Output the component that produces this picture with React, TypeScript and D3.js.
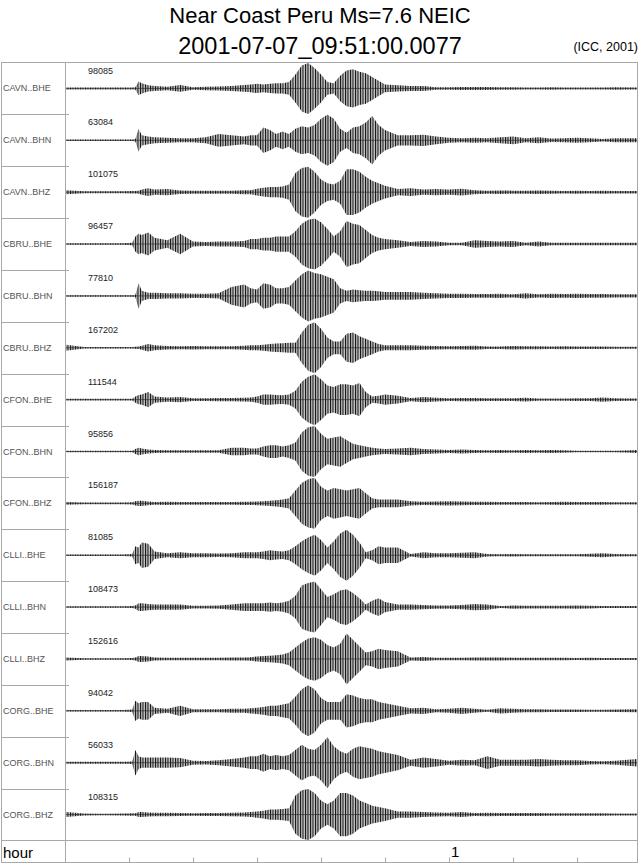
import React from 'react';
import * as d3 from 'd3';

// ---- data ----
// time knots in minutes after origin (shared by all traces)
const TIMES = [
  0, 3, 6, 9, 10.5, 11, 11.5, 12, 13, 14,
  16, 18, 20, 22, 24, 26, 28,
  29, 30, 31, 32, 33, 34, 35, 36, 37, 38, 39, 40, 41, 42, 43, 44, 45, 46, 47, 48, 49, 50,
  52, 54, 56, 58, 60, 62, 64, 66, 68, 70, 72, 74, 76, 78, 80, 82, 84, 86, 89.4,
];

const STATIONS = [
  'CAVN..BHE', 'CAVN..BHN', 'CAVN..BHZ',
  'CBRU..BHE', 'CBRU..BHN', 'CBRU..BHZ',
  'CFON..BHE', 'CFON..BHN', 'CFON..BHZ',
  'CLLI..BHE', 'CLLI..BHN', 'CLLI..BHZ',
  'CORG..BHE', 'CORG..BHN', 'CORG..BHZ',
];

const MAX_COUNTS = [
  98085, 63084, 101075, 96457, 77810, 167202, 111544, 95856, 156187,
  81085, 108473, 152616, 94042, 56033, 108315,
];

// normalized envelope (fraction of trace maximum) at TIMES
const ENV_CAVN_BHE = [
  0.04, 0.04, 0.04, 0.04, 0.04, 0.05, 0.27, 0.2, 0.12, 0.1,
  0.07, 0.13, 0.05, 0.07, 0.08, 0.1, 0.13,
  0.15, 0.18, 0.15, 0.18, 0.2, 0.2, 0.25, 0.55, 0.9, 1.0, 0.8, 0.55, 0.25, 0.2, 0.5, 0.7, 0.75, 0.65, 0.6, 0.45, 0.3, 0.15,
  0.12, 0.1, 0.1, 0.05, 0.05, 0.06, 0.06, 0.06, 0.05, 0.05, 0.04, 0.04, 0.05, 0.04, 0.04, 0.04, 0.04, 0.05, 0.04,
];
const ENV_CAVN_BHN = [
  0.03, 0.03, 0.03, 0.03, 0.03, 0.05, 0.45, 0.2, 0.15, 0.12,
  0.1, 0.08, 0.08, 0.12, 0.25, 0.2, 0.15,
  0.2, 0.2, 0.5, 0.4, 0.25, 0.35, 0.25, 0.45, 0.55, 0.5, 0.6, 0.85, 1.0, 0.85, 0.45, 0.3, 0.5, 0.55, 0.7, 0.95, 0.6, 0.4,
  0.2, 0.2, 0.22, 0.15, 0.1, 0.08, 0.1, 0.08, 0.12, 0.15, 0.08, 0.12, 0.07, 0.08, 0.1, 0.08, 0.05, 0.08, 0.08,
];
const ENV_CAVN_BHZ = [
  0.08, 0.04, 0.04, 0.04, 0.05, 0.05, 0.06, 0.1, 0.15, 0.1,
  0.12, 0.07, 0.06, 0.06, 0.06, 0.06, 0.08,
  0.08, 0.13, 0.17, 0.2, 0.2, 0.22, 0.3, 0.75, 0.95, 1.0, 0.8, 0.5, 0.35, 0.3, 0.45, 0.9, 0.9, 0.8, 0.6, 0.45, 0.35, 0.25,
  0.12, 0.15, 0.1, 0.12, 0.1, 0.13, 0.08, 0.06, 0.07, 0.06, 0.06, 0.07, 0.06, 0.05, 0.06, 0.05, 0.06, 0.05, 0.05,
];
const ENV_CBRU_BHE = [
  0.03, 0.03, 0.03, 0.03, 0.05, 0.3, 0.4, 0.35, 0.45, 0.25,
  0.15, 0.4, 0.1, 0.08, 0.1, 0.1, 0.12,
  0.2, 0.2, 0.25, 0.25, 0.3, 0.3, 0.3, 0.5, 0.8, 0.95, 1.0, 0.85, 0.6, 0.3, 0.5, 0.9, 0.8, 0.75, 0.55, 0.35, 0.25, 0.2,
  0.15, 0.08, 0.12, 0.1, 0.05, 0.05, 0.15, 0.12, 0.1, 0.12, 0.05, 0.1, 0.05, 0.05, 0.05, 0.05, 0.05, 0.05, 0.05,
];
const ENV_CBRU_BHN = [
  0.03, 0.03, 0.03, 0.03, 0.03, 0.05, 0.5, 0.2, 0.12, 0.12,
  0.1, 0.1, 0.08, 0.08, 0.1, 0.35, 0.45,
  0.3, 0.25, 0.5, 0.45, 0.3, 0.3, 0.35, 0.6, 0.85, 1.0, 0.9, 0.85, 0.75, 0.65, 0.3, 0.2, 0.25, 0.22, 0.2, 0.2, 0.18, 0.15,
  0.15, 0.15, 0.12, 0.1, 0.08, 0.08, 0.07, 0.07, 0.08, 0.06, 0.1, 0.06, 0.08, 0.07, 0.08, 0.07, 0.07, 0.06, 0.06,
];
const ENV_CBRU_BHZ = [
  0.12, 0.03, 0.03, 0.03, 0.03, 0.04, 0.05, 0.08, 0.15, 0.1,
  0.07, 0.06, 0.07, 0.06, 0.06, 0.06, 0.08,
  0.1, 0.1, 0.12, 0.15, 0.17, 0.18, 0.2, 0.2, 0.6, 0.9, 1.0, 0.75, 0.4, 0.25, 0.25, 0.55, 0.6, 0.45, 0.35, 0.25, 0.15, 0.1,
  0.1, 0.1, 0.08, 0.07, 0.06, 0.07, 0.08, 0.05, 0.05, 0.07, 0.06, 0.06, 0.05, 0.06, 0.05, 0.05, 0.05, 0.04, 0.04,
];
const ENV_CFON_BHE = [
  0.03, 0.03, 0.03, 0.03, 0.03, 0.12, 0.18, 0.2, 0.3, 0.12,
  0.08, 0.1, 0.05, 0.05, 0.06, 0.06, 0.07,
  0.08, 0.12, 0.2, 0.2, 0.18, 0.17, 0.2, 0.35, 0.7, 0.9, 1.0, 0.8, 0.55, 0.5, 0.6, 0.6, 0.55, 0.65, 0.3, 0.12, 0.15, 0.2,
  0.15, 0.06, 0.1, 0.07, 0.05, 0.06, 0.06, 0.05, 0.05, 0.05, 0.07, 0.04, 0.04, 0.04, 0.05, 0.05, 0.08, 0.05, 0.04,
];
const ENV_CFON_BHN = [
  0.02, 0.02, 0.02, 0.02, 0.03, 0.1, 0.15, 0.12, 0.08, 0.06,
  0.05, 0.05, 0.05, 0.05, 0.05, 0.15, 0.15,
  0.12, 0.12, 0.2, 0.25, 0.25, 0.2, 0.25, 0.35, 0.75, 0.95, 1.0, 0.7, 0.5, 0.55, 0.6, 0.45, 0.3, 0.25, 0.2, 0.15, 0.12, 0.1,
  0.12, 0.15, 0.1, 0.08, 0.06, 0.08, 0.06, 0.05, 0.06, 0.05, 0.06, 0.05, 0.06, 0.05, 0.03, 0.03, 0.03, 0.03, 0.06,
];
const ENV_CFON_BHZ = [
  0.06, 0.03, 0.03, 0.03, 0.04, 0.08, 0.1, 0.1, 0.07, 0.05,
  0.06, 0.05, 0.05, 0.05, 0.05, 0.05, 0.06,
  0.06, 0.07, 0.08, 0.1, 0.12, 0.15, 0.2, 0.5, 0.8, 0.95, 1.0, 0.65, 0.5, 0.6, 0.55, 0.5, 0.55, 0.6, 0.4, 0.2, 0.15, 0.15,
  0.15, 0.08, 0.06, 0.07, 0.08, 0.07, 0.06, 0.06, 0.05, 0.05, 0.05, 0.04, 0.05, 0.06, 0.05, 0.05, 0.05, 0.04, 0.04,
];
const ENV_CLLI_BHE = [
  0.03, 0.03, 0.03, 0.03, 0.05, 0.35, 0.3, 0.5, 0.45, 0.15,
  0.08, 0.12, 0.08, 0.08, 0.07, 0.08, 0.12,
  0.12, 0.12, 0.15, 0.2, 0.17, 0.15, 0.2, 0.35, 0.55, 0.7, 0.8, 0.6, 0.3, 0.55, 0.85, 1.0, 0.8, 0.5, 0.12, 0.2, 0.35, 0.3,
  0.3, 0.05, 0.12, 0.08, 0.08, 0.1, 0.12, 0.05, 0.04, 0.05, 0.04, 0.04, 0.04, 0.04, 0.04, 0.06, 0.08, 0.05, 0.04,
];
const ENV_CLLI_BHN = [
  0.03, 0.03, 0.03, 0.03, 0.04, 0.06, 0.15, 0.15, 0.12, 0.1,
  0.1, 0.1, 0.05, 0.05, 0.06, 0.1, 0.15,
  0.15, 0.15, 0.15, 0.18, 0.15, 0.18, 0.25, 0.45, 0.85, 0.95, 1.0, 0.7, 0.4, 0.5, 0.65, 0.7, 0.55, 0.35, 0.1, 0.25, 0.35, 0.2,
  0.1, 0.1, 0.08, 0.06, 0.06, 0.08, 0.12, 0.1, 0.04, 0.06, 0.05, 0.05, 0.05, 0.05, 0.06, 0.05, 0.04, 0.04, 0.04,
];
const ENV_CLLI_BHZ = [
  0.06, 0.03, 0.03, 0.03, 0.04, 0.06, 0.12, 0.12, 0.1, 0.06,
  0.05, 0.05, 0.05, 0.05, 0.05, 0.06, 0.06,
  0.07, 0.1, 0.12, 0.13, 0.15, 0.18, 0.25, 0.45, 0.65, 0.8, 0.85, 0.75, 0.55, 0.45, 0.6, 1.0, 0.75, 0.5, 0.25, 0.3, 0.4, 0.35,
  0.3, 0.06, 0.08, 0.05, 0.05, 0.05, 0.06, 0.06, 0.06, 0.05, 0.05, 0.05, 0.05, 0.05, 0.04, 0.05, 0.04, 0.04, 0.04,
];
const ENV_CORG_BHE = [
  0.03, 0.03, 0.03, 0.03, 0.05, 0.4, 0.3, 0.35, 0.35, 0.12,
  0.08, 0.2, 0.06, 0.06, 0.06, 0.08, 0.08,
  0.1, 0.12, 0.15, 0.2, 0.2, 0.25, 0.3, 0.55, 0.85, 1.0, 0.85, 0.5, 0.35, 0.35, 0.35, 0.65, 0.6, 0.5, 0.45, 0.45, 0.35, 0.3,
  0.2, 0.1, 0.12, 0.06, 0.08, 0.12, 0.08, 0.04, 0.1, 0.08, 0.06, 0.06, 0.05, 0.05, 0.05, 0.04, 0.04, 0.05, 0.06,
];
const ENV_CORG_BHN = [
  0.04, 0.04, 0.04, 0.04, 0.05, 0.5, 0.25, 0.2, 0.2, 0.2,
  0.2, 0.18, 0.08, 0.07, 0.1, 0.15, 0.2,
  0.25, 0.25, 0.35, 0.25, 0.3, 0.25, 0.3, 0.5, 0.7, 0.55, 0.5, 0.7, 1.0, 0.65, 0.45, 0.35, 0.55, 0.65, 0.6, 0.55, 0.45, 0.4,
  0.3, 0.12, 0.2, 0.15, 0.08, 0.12, 0.1, 0.25, 0.12, 0.12, 0.12, 0.15, 0.12, 0.1, 0.1, 0.07, 0.06, 0.08, 0.15,
];
const ENV_CORG_BHZ = [
  0.1, 0.04, 0.03, 0.04, 0.05, 0.05, 0.1, 0.1, 0.08, 0.07,
  0.07, 0.06, 0.05, 0.06, 0.06, 0.07, 0.08,
  0.1, 0.12, 0.15, 0.2, 0.2, 0.22, 0.25, 0.75, 0.95, 1.0, 0.85, 0.55, 0.4, 0.55, 0.85, 0.85, 0.75, 0.55, 0.45, 0.35, 0.3, 0.25,
  0.12, 0.12, 0.1, 0.08, 0.07, 0.1, 0.06, 0.07, 0.06, 0.06, 0.06, 0.06, 0.05, 0.05, 0.05, 0.05, 0.05, 0.04, 0.04,
];

const ENVELOPES = [
  ENV_CAVN_BHE, ENV_CAVN_BHN, ENV_CAVN_BHZ,
  ENV_CBRU_BHE, ENV_CBRU_BHN, ENV_CBRU_BHZ,
  ENV_CFON_BHE, ENV_CFON_BHN, ENV_CFON_BHZ,
  ENV_CLLI_BHE, ENV_CLLI_BHN, ENV_CLLI_BHZ,
  ENV_CORG_BHE, ENV_CORG_BHN, ENV_CORG_BHZ,
];

// time axis ticks (minutes) and labels
const TICK_MINUTES = [10, 20, 30, 40, 50, 60, 70, 80];
const TICK_LABELS: Record<number, string> = { 60: '1' };

const TITLE_1 = 'Near Coast Peru Ms=7.6 NEIC';
const TITLE_2 = '2001-07-07_09:51:00.0077';
const CREDIT = '(ICC, 2001)';
const AXIS_NAME = 'hour';

// ---- layout ----
const W = 640;
const H = 866;
const FRAME_L = 1.5;
const FRAME_R = 637.5;
const COL_X = 65.5;
const TOP = 62.5;
const ROWS_BOTTOM = 840.5;
const BOTTOM = 862.5;
const FONT = '"Liberation Sans", Arial, Helvetica, sans-serif';

export default function App() {
  const x = d3.scaleLinear().domain([0, 60]).range([65, 449]);
  const row = d3.scaleBand<string>().domain(STATIONS).range([TOP, ROWS_BOTTOM]);
  const amp = d3.scaleLinear().domain([0, 1]).range([0, 25.5]);

  const traces = STATIONS.map((name, i) => {
    const env = ENVELOPES[i];
    const n = Math.min(env.length, TIMES.length);
    const pts: [number, number][] = [];
    for (let k = 0; k < n; k++) pts.push([TIMES[k], env[k]]);
    const base = (row(name) as number) + row.bandwidth() / 2;
    const area = d3
      .area<[number, number]>()
      .x((d) => x(d[0]))
      .y0((d) => base + amp(Math.max(d[1], 0.025)))
      .y1((d) => base - amp(Math.max(d[1], 0.025)))
      .curve(d3.curveLinear);
    return { name, i, base, top: row(name) as number, d: area(pts) || '' };
  });

  return (
    <svg
      width={W}
      height={H}
      viewBox={`0 0 ${W} ${H}`}
      style={{ position: 'absolute', left: 0, top: 0, background: '#fff' }}
      fontFamily={FONT}
    >
      <defs>
        <pattern id="osc" width={2.5} height={10} patternUnits="userSpaceOnUse">
          <rect width={2.5} height={10} fill="#c4c4c4" />
          <rect width={1} height={10} fill="#0a0a0a" />
        </pattern>
        <clipPath id="plotClip">
          <rect x={66} y={TOP - 2} width={FRAME_R - 66.5} height={ROWS_BOTTOM - TOP + 2} />
        </clipPath>
      </defs>

      {/* titles */}
      <text x={320} y={23} textAnchor="middle" fontSize={22} fill="#000">
        {TITLE_1}
      </text>
      <text x={320} y={54} textAnchor="middle" fontSize={23.5} fill="#000">
        {TITLE_2}
      </text>
      <text x={638} y={51} textAnchor="end" fontSize={12.5} fill="#000">
        {CREDIT}
      </text>

      {/* frame */}
      <rect
        x={FRAME_L}
        y={TOP}
        width={FRAME_R - FRAME_L}
        height={BOTTOM - TOP}
        fill="none"
        stroke="#a8a8a8"
        strokeWidth={1}
      />
      <line x1={COL_X} x2={COL_X} y1={TOP} y2={BOTTOM} stroke="#a8a8a8" />
      <line x1={FRAME_L} x2={FRAME_R} y1={ROWS_BOTTOM} y2={ROWS_BOTTOM} stroke="#a8a8a8" />
      {STATIONS.slice(1).map((s) => {
        const yy = Math.round(row(s) as number) + 0.5;
        return <line key={s} x1={FRAME_L} x2={69} y1={yy} y2={yy} stroke="#a8a8a8" />;
      })}

      {/* traces */}
      <g clipPath="url(#plotClip)">
        {traces.map((t) => (
          <g key={t.name}>
            <path d={t.d} fill="url(#osc)" />
            <line
              x1={x(0)}
              x2={FRAME_R}
              y1={t.base}
              y2={t.base}
              stroke="#222"
              strokeWidth={0.8}
              strokeOpacity={0.8}
            />
          </g>
        ))}
      </g>

      {/* labels */}
      {traces.map((t) => (
        <g key={'lab' + t.name}>
          <text x={3} y={t.base + 3} fontSize={9} fill="#555">
            {t.name}
          </text>
          <text x={88} y={t.top + 11} fontSize={9} fill="#222">
            {MAX_COUNTS[t.i]}
          </text>
        </g>
      ))}

      {/* time axis */}
      <text x={3} y={858} fontSize={15} fill="#000">
        {AXIS_NAME}
      </text>
      {TICK_MINUTES.map((m) => {
        const xx = Math.round(x(m)) + 0.5;
        return (
          <g key={m}>
            <line x1={xx} x2={xx} y1={BOTTOM} y2={BOTTOM - 5} stroke="#a8a8a8" />
            {TICK_LABELS[m] ? (
              <text x={xx + 1.5} y={857} fontSize={15} fill="#000">
                {TICK_LABELS[m]}
              </text>
            ) : null}
          </g>
        );
      })}
    </svg>
  );
}
